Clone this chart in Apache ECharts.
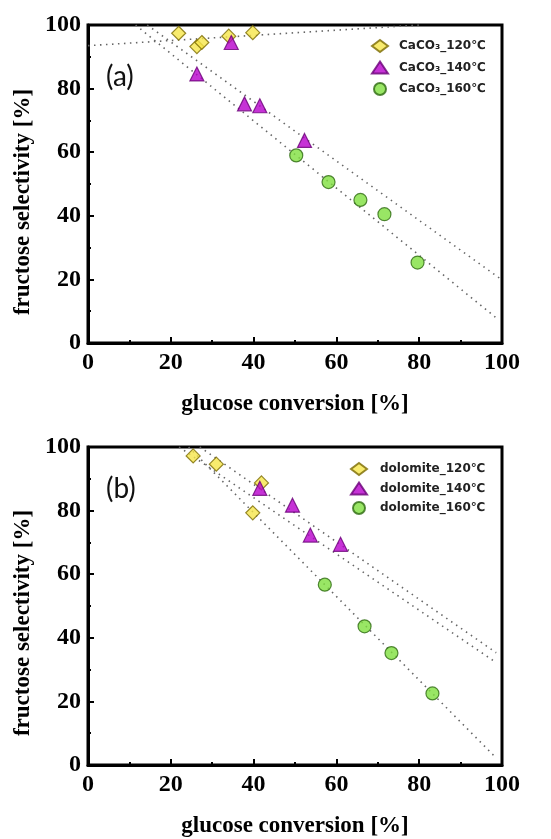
<!DOCTYPE html>
<html><head><meta charset="utf-8">
<script src="https://cdn.jsdelivr.net/npm/echarts@6/dist/echarts.min.js"></script>
<style>html,body{margin:0;padding:0;background:#fff}#c{width:551px;height:839px}</style>
</head><body><div id="c"></div>
<script>
// ---- data ----
const axisTicks = [0, 20, 40, 60, 80, 100];
const caco3_120 = [[21.9,97.4],[26.3,93.2],[27.5,94.5],[34.0,96.5],[39.8,97.6]];
const caco3_140 = [[26.3,84.6],[34.6,94.5],[37.8,75.2],[41.5,74.6],[52.3,63.7]];
const caco3_160 = [[50.3,59.0],[58.1,50.6],[65.8,45.0],[71.6,40.5],[79.6,25.3]];
const dol_120 = [[25.4,97.2],[31.0,94.6],[41.9,88.7],[39.8,79.3]];
const dol_140 = [[41.5,87.0],[49.4,81.7],[53.7,72.3],[61.0,69.4]];
const dol_160 = [[57.2,56.7],[66.8,43.6],[73.3,35.2],[83.2,22.5]];
// dotted trend lines (end points)
const fitA_120 = [[0,93.5],[80,100]];
const fitA_140 = [[14.3,100],[99.4,20.4]];
const fitA_160 = [[11.5,100],[98.6,7.9]];
const fitB_120 = [[22,100],[98.6,32.2]];
const fitB_140 = [[27,100],[98.6,35.3]];
const fitB_160 = [[24.3,100],[98.6,2.2]];
const namesA = ['CaCO\u2083_120\u2103','CaCO\u2083_140\u2103','CaCO\u2083_160\u2103'];
const namesB = ['dolomite_120\u2103','dolomite_140\u2103','dolomite_160\u2103'];
const xTitle = 'glucose conversion [%]';
const yTitle = 'fructose selectivity [%]';

const serif = '"Liberation Serif", "DejaVu Serif", serif';
const styles = [
  {symbol:'diamond', size:14, color:'#f6e64a', border:'#7a6a00'},
  {symbol:'triangle', size:14, color:'#b800cc', border:'#6a0078'},
  {symbol:'circle', size:13, color:'#80e03e', border:'#2e6a12'}
];

function mkAxis(type, gi){
  return {
    type:'value', gridIndex:gi, min:0, max:100, interval:20,
    axisLine:{show:true, onZero:false, lineStyle:{color:'#000', width:3}},
    axisTick:{show:true, inside:true, length:6, lineStyle:{color:'#000', width:2}},
    minorTick:{show:true, splitNumber:2, length:3, lineStyle:{color:'#000', width:2}},
    splitLine:{show:false},
    axisLabel:{color:'#000', fontFamily:serif, fontWeight:'bold', fontSize:24, margin:type==='x'?8:7},
    name: type==='x' ? xTitle : '',
    nameLocation:'middle', nameGap:50,
    nameTextStyle:{color:'#000', fontFamily:serif, fontWeight:'bold', fontSize:23}
  };
}
function scatter(name, data, st, gi){
  return {type:'scatter', name:name, xAxisIndex:gi, yAxisIndex:gi, data:data,
    symbol:st.symbol, symbolSize:st.size, z:5,
    itemStyle:{color:st.color, borderColor:st.border, borderWidth:1.2}};
}
function fit(data, gi){
  return {type:'line', data:data, xAxisIndex:gi, yAxisIndex:gi, symbol:'none', silent:true, z:2,
    lineStyle:{color:'#666', width:1.6, type:[1.5,4.5]}};
}
const legendText = {fontFamily:'"DejaVu Sans", sans-serif', fontWeight:'bold', fontSize:12, color:'#222'};
const chart = echarts.init(document.getElementById('c'), null, {renderer:'canvas'});
chart.setOption({
  animation:false,
  grid:[
    {left:88, top:25, width:414, height:318, show:true, borderColor:'#000', borderWidth:3, backgroundColor:'transparent'},
    {left:88, top:447, width:414, height:319, show:true, borderColor:'#000', borderWidth:3, backgroundColor:'transparent'}
  ],
  xAxis:[mkAxis('x',0), mkAxis('x',1)],
  yAxis:[mkAxis('y',0), mkAxis('y',1)],
  legend:[
    {data:namesA, orient:'vertical', left:366, top:34, itemWidth:16, itemHeight:12, itemGap:7.5,
     textStyle:Object.assign({padding:[0,0,0,6]}, legendText)},
    {data:namesB, orient:'vertical', left:345, top:457, itemWidth:16, itemHeight:12, itemGap:5.5,
     textStyle:Object.assign({padding:[0,0,0,8]}, legendText)}
  ],
  graphic:[
    {type:'text', x:23, y:202, rotation:Math.PI/2, style:{text:yTitle, textAlign:'center', textVerticalAlign:'middle', font:'bold 23px "Liberation Serif"', fill:'#000'}},
    {type:'text', x:23, y:623, rotation:Math.PI/2, style:{text:yTitle, textAlign:'center', textVerticalAlign:'middle', font:'bold 23px "Liberation Serif"', fill:'#000'}},
    {type:'text', x:106, y:77, style:{text:'(a)', textAlign:'left', textVerticalAlign:'middle', font:'28px Lato', fill:'#111'}},
    {type:'text', x:106, y:489, style:{text:'(b)', textAlign:'left', textVerticalAlign:'middle', font:'28px Lato', fill:'#111'}}
  ],
  series:[
    fit(fitA_120,0), fit(fitA_140,0), fit(fitA_160,0),
    fit(fitB_120,1), fit(fitB_140,1), fit(fitB_160,1),
    scatter(namesA[0], caco3_120, styles[0], 0),
    scatter(namesA[1], caco3_140, styles[1], 0),
    scatter(namesA[2], caco3_160, styles[2], 0),
    scatter(namesB[0], dol_120, styles[0], 1),
    scatter(namesB[1], dol_140, styles[1], 1),
    scatter(namesB[2], dol_160, styles[2], 1)
  ]
});
</script></body></html>
